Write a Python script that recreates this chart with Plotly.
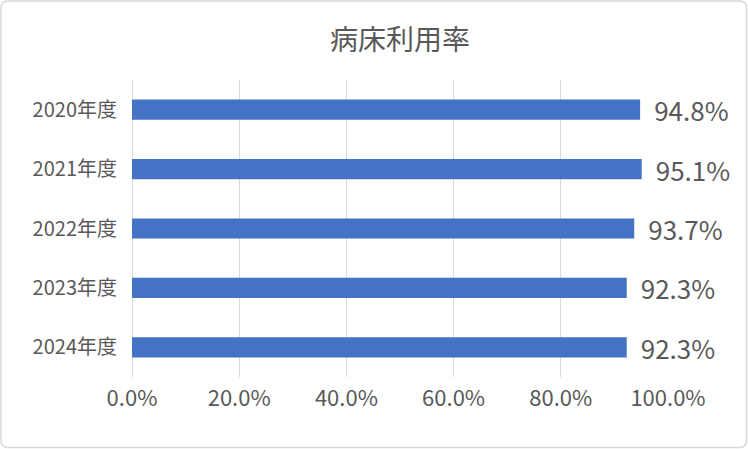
import plotly.graph_objects as go

years = ['2020年度', '2021年度', '2022年度', '2023年度', '2024年度']
rates = [94.8, 95.1, 93.7, 92.3, 92.3]
tick_vals = [0, 20, 40, 60, 80, 100]

FONT = 'Noto Sans CJK JP'
GRAY = '#595959'

W, H = 748, 449
L, R, T, B = 132, 80, 80, 72
pw, ph = W - L - R, H - T - B


def px(x):
    return (x - L) / pw


def py(y):
    return (H - B - y) / ph


# rounded frame around the whole chart
x0, x1, y0, y1, rr = px(1), px(746.5), py(447.5), py(1), 7
rx, ry = rr / pw, rr / ph
frame = (f'M {x0 + rx},{y1} L {x1 - rx},{y1} Q {x1},{y1} {x1},{y1 - ry} '
         f'L {x1},{y0 + ry} Q {x1},{y0} {x1 - rx},{y0} '
         f'L {x0 + rx},{y0} Q {x0},{y0} {x0},{y0 + ry} '
         f'L {x0},{y1 - ry} Q {x0},{y1} {x0 + rx},{y1} Z')

fig = go.Figure()
fig.add_trace(go.Bar(
    x=[r / 100 for r in rates], y=years, orientation='h',
    marker=dict(color='#4472C4', line=dict(width=0)),
    text=[f'\u2009 {r:.1f}%' for r in rates], textposition='outside',
    textfont=dict(size=26, color=GRAY, family=FONT),
    constraintext='none', cliponaxis=False,
))
fig.update_layout(
    width=W, height=H,
    margin=dict(l=L, r=R, t=T, b=B),
    paper_bgcolor='white', plot_bgcolor='white',
    title=dict(text='病床利用率', x=0.5, xref='paper', y=1 - 40 / H, yanchor='middle',
               font=dict(size=28, color=GRAY, family=FONT)),
    bargap=0.66,
    showlegend=False,
    font=dict(family=FONT, color=GRAY),
    xaxis=dict(range=[0, 1], tickvals=[v / 100 for v in tick_vals], tickformat='.1%',
               showgrid=True, gridcolor='#d9d9d9', gridwidth=1,
               zeroline=True, zerolinecolor='#d9d9d9', zerolinewidth=1,
               tickfont=dict(size=22, color=GRAY), ticks='outside', ticklen=2,
               tickcolor='rgba(0,0,0,0)'),
    yaxis=dict(autorange='reversed', tickfont=dict(size=20, color=GRAY),
               ticks='outside', ticklen=10, tickcolor='rgba(0,0,0,0)', showline=False),
    shapes=[dict(type='path', xref='paper', yref='paper', path=frame,
                 line=dict(color='#d9d9d9', width=1.5), layer='below')],
)
fig.write_html('out.html', config={'displayModeBar': False},
               post_script="document.body.style.margin='0';")
